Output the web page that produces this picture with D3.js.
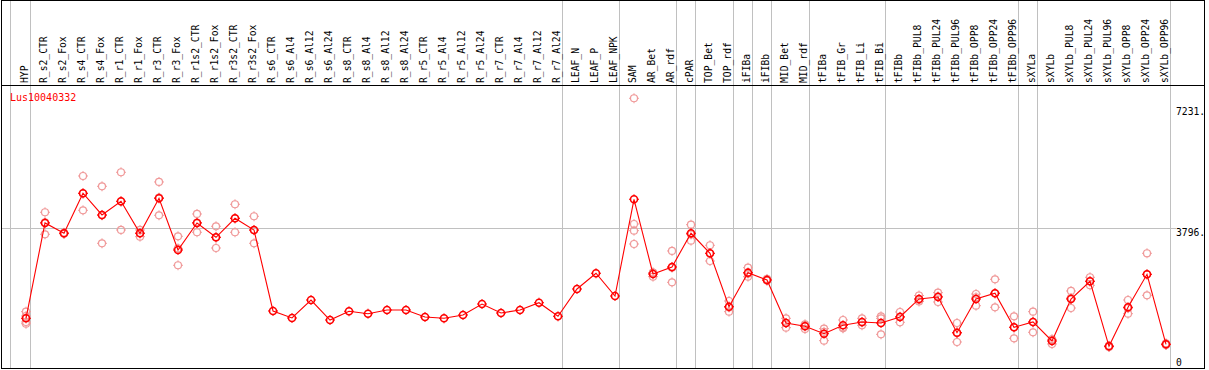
<!DOCTYPE html>
<html>
<head>
<meta charset="utf-8">
<script src="https://cdn.jsdelivr.net/npm/d3@7"></script>
<style>
body { margin: 0; background: #fff; }
text { font-family: "DejaVu Sans Mono", monospace; }
</style>
</head>
<body>
<svg width="1209" height="370"></svg>
<script>
let geneName = 'Lus10040332';

let categories = ['HYP', 'R_s2_CTR', 'R_s2_Fox', 'R_s4_CTR', 'R_s4_Fox', 'R_r1_CTR', 'R_r1_Fox',
    'R_r3_CTR', 'R_r3_Fox', 'R_r1s2_CTR', 'R_r1s2_Fox', 'R_r3s2_CTR', 'R_r3s2_Fox', 'R_s6_CTR',
    'R_s6_Al4', 'R_s6_Al12', 'R_s6_Al24', 'R_s8_CTR', 'R_s8_Al4', 'R_s8_Al12', 'R_s8_Al24',
    'R_r5_CTR', 'R_r5_Al4', 'R_r5_Al12', 'R_r5_Al24', 'R_r7_CTR', 'R_r7_Al4', 'R_r7_Al12',
    'R_r7_Al24', 'LEAF_N', 'LEAF_P', 'LEAF_NPK', 'SAM', 'AR_Bet', 'AR_rdf', 'cPAR', 'TOP_Bet',
    'TOP_rdf', 'iFIBa', 'iFIBb', 'MID_Bet', 'MID_rdf', 'tFIBa', 'tFIB_Gr', 'tFIB_Li', 'tFIB_Bi',
    'tFIBb', 'tFIBb_PUL8', 'tFIBb_PUL24', 'tFIBb_PUL96', 'tFIBb_OPP8', 'tFIBb_OPP24', 'tFIBb_OPP96',
    'sXYLa', 'sXYLb', 'sXYLb_PUL8', 'sXYLb_PUL24', 'sXYLb_PUL96', 'sXYLb_OPP8', 'sXYLb_OPP24',
    'sXYLb_OPP96'];

let means = [1254, 3947, 3656, 4786, 4173, 4560, 3656, 4644, 3184, 3947, 3543, 4079, 3749,
    1461, 1263, 1771, 1206, 1452, 1384, 1489, 1489, 1291, 1254, 1348, 1658, 1404, 1489, 1695,
    1311, 2082, 2526, 1884, 4616, 2506, 2704, 3656, 3091, 1582, 2543, 2336, 1122, 1028, 819,
    1057, 1150, 1122, 1291, 1800, 1856, 848, 1800, 1961, 1000, 1150, 613, 1800, 2300, 463,
    1565, 2497, 520];

let replicates = [
    [1441, 1319, 1150, 1100], [4249, 3627, 3965], [3640, 3670], [5274, 4305, 4779],
    [4983, 3373, 4163], [5379, 3749, 4552], [3749, 3560, 3660], [5105, 4164, 4663],
    [3571, 2752, 3229], [4201, 3684, 3956], [3853, 3240, 3536], [4475, 3684, 4078],
    [4136, 3373, 3738], [], [], [], [], [], [], [], [], [], [], [], [], [], [], [], [],
    [], [], [], [7469, 3918, 3729, 3353], [2543, 2430, 2545], [3156, 2271, 2685],
    [3899, 3447, 3622], [3317, 2873, 3083], [1743, 1441, 1562], [2684, 2430, 2515],
    [2365, 2320, 2323], [1254, 989, 1123], [1085, 952, 1047], [961, 622, 874],
    [1206, 972, 993], [1254, 1057, 1139], [1254, 802, 1310], [1432, 1141, 1300],
    [1898, 1729, 1773], [1978, 1715, 1875], [1122, 585, 837], [1941, 1610, 1849],
    [2356, 1565, 1962], [1311, 689, 1000], [1441, 859, 1150], [528, 650, 660],
    [2026, 1545, 1829], [2413, 2187, 2300], [480, 445, 463], [1771, 1384, 1540],
    [3091, 1904, 2496], [548, 500, 512]];

// last sample of each tissue group, a grey divider goes after it
let groupEnds = ['HYP', 'R_r7_Al24', 'LEAF_NPK', 'AR_rdf', 'cPAR', 'TOP_rdf', 'iFIBa', 'iFIBb',
    'MID_rdf', 'tFIB_Bi', 'tFIBb_OPP96', 'sXYLa', 'sXYLb_OPP96'];

let yTicks = [0, 3796, 7231];
let yTickLabels = ['0', '3796.', '7231.'];

let svg = d3.select('svg');
let width = +svg.attr('width');
let height = +svg.attr('height');

let frame = {left: 1.5, right: 1204.5, top: 0.5, header: 85.5, bottom: 368.5};

let xScale = d3.scalePoint()
    .domain(categories)
    .range([26, 1166]);
let step = xScale.step();

let yScale = d3.scaleLinear()
    .domain([0, 7231])
    .range([362.7, 106.7]);

// grey dividers between tissue groups
let dividers = [xScale(categories[0]) - step + 3.5].concat(groupEnds.map(c => xScale(c) + 4.5));
svg.append('g').selectAll('line').data(dividers)
    .enter().append('line')
    .attr('x1', d => Math.round(d - 0.5) + 0.5)
    .attr('x2', d => Math.round(d - 0.5) + 0.5)
    .attr('y1', frame.top)
    .attr('y2', frame.bottom)
    .attr('stroke', '#c0c0c0')
    .attr('shape-rendering', 'crispEdges');

// horizontal grid at the middle tick
svg.append('line')
    .attr('x1', frame.left)
    .attr('x2', 1176)
    .attr('y1', Math.round(yScale(3796)) + 0.5)
    .attr('y2', Math.round(yScale(3796)) + 0.5)
    .attr('stroke', '#c0c0c0')
    .attr('shape-rendering', 'crispEdges');

// frame
svg.append('rect')
    .attr('x', frame.left).attr('y', frame.top)
    .attr('width', frame.right - frame.left).attr('height', frame.bottom - frame.top)
    .attr('fill', 'none').attr('stroke', '#000')
    .attr('shape-rendering', 'crispEdges');
svg.append('line')
    .attr('x1', frame.left).attr('x2', frame.right)
    .attr('y1', frame.header).attr('y2', frame.header)
    .attr('stroke', '#000')
    .attr('shape-rendering', 'crispEdges');

// sample names, rotated
svg.append('g').selectAll('text').data(categories)
    .enter().append('text')
    .attr('transform', d => `translate(${xScale(d) + 1.5},83) rotate(-90)`)
    .attr('font-size', '9.7px')
    .attr('fill', '#000')
    .text(d => d);

// y labels on the right
svg.append('g').selectAll('text').data(yTicks)
    .enter().append('text')
    .attr('x', 1176)
    .attr('y', d => Math.min(yScale(d) + 8, 365.5))
    .attr('font-size', '9.7px')
    .attr('fill', '#000')
    .text((d, i) => yTickLabels[i]);

svg.append('text')
    .attr('x', 10)
    .attr('y', 101)
    .attr('font-size', '10px')
    .attr('fill', '#ff0000')
    .text(geneName);

// marker: ring with four small ticks
let r = 3.5;
let ticks = `M0,${-r - 1.5}V${-r + 0.5}M0,${r - 0.5}V${r + 1.5}M${-r - 1.5},0H${-r + 0.5}M${r - 0.5},0H${r + 1.5}`;

// replicate points
let reps = [];
replicates.forEach((list, i) => list.forEach(v => reps.push({c: categories[i], v: v})));
let repG = svg.append('g').selectAll('g').data(reps)
    .enter().append('g')
    .attr('transform', d => `translate(${xScale(d.c)},${yScale(d.v)})`);
repG.append('circle').attr('r', r).attr('fill', 'none').attr('stroke', '#f09a9a').attr('stroke-width', 1.2);
repG.append('path').attr('d', ticks).attr('stroke', '#f09a9a').attr('stroke-width', 1);

// mean line
let line = d3.line()
    .x((d, i) => xScale(categories[i]))
    .y(d => yScale(d));
svg.append('path')
    .datum(means)
    .attr('d', line)
    .attr('fill', 'none')
    .attr('stroke', '#ff0000')
    .attr('stroke-width', 1.1);

// mean points
let meanG = svg.append('g').selectAll('g').data(means)
    .enter().append('g')
    .attr('transform', (d, i) => `translate(${xScale(categories[i])},${yScale(d)})`);
meanG.append('circle').attr('r', r).attr('fill', 'none').attr('stroke', '#ff0000').attr('stroke-width', 1.6);
meanG.append('path').attr('d', ticks).attr('stroke', '#ff0000').attr('stroke-width', 1);
</script>
</body>
</html>
